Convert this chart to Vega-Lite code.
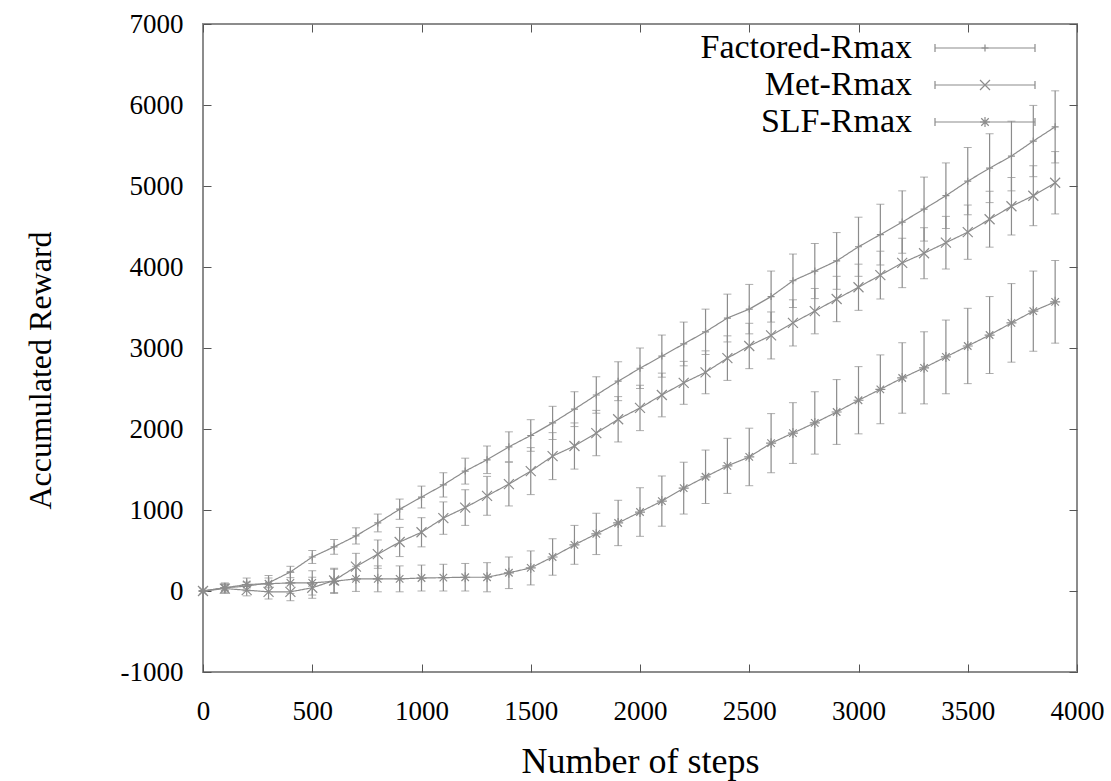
{
  "$schema": "https://vega.github.io/schema/vega-lite/v6.json",
  "width": 874,
  "height": 648,
  "autosize": "none",
  "padding": {"left": 203, "top": 24, "right": 34, "bottom": 109},
  "background": "white",
  "config": {
    "font": "Liberation Serif",
    "view": {"stroke": "#8c8c8c", "strokeWidth": 2},
    "axis": {
      "grid": false,
      "domain": false,
      "tickColor": "#555555",
      "tickWidth": 1,
      "labelFlush": false,
      "labelFont": "Liberation Serif",
      "labelFontSize": 27,
      "labelColor": "#000000",
      "titleFont": "Liberation Serif",
      "titleFontSize": 32,
      "titleFontWeight": "normal",
      "titleColor": "#000000"
    }
  },
  "data": {
    "values": [
      {"series": "Factored-Rmax", "step": 0, "reward": 0, "err": 0},
      {"series": "Factored-Rmax", "step": 100, "reward": 40, "err": 40},
      {"series": "Factored-Rmax", "step": 200, "reward": 60, "err": 50},
      {"series": "Factored-Rmax", "step": 300, "reward": 100, "err": 60},
      {"series": "Factored-Rmax", "step": 400, "reward": 235, "err": 70},
      {"series": "Factored-Rmax", "step": 500, "reward": 420, "err": 80},
      {"series": "Factored-Rmax", "step": 600, "reward": 545, "err": 90},
      {"series": "Factored-Rmax", "step": 700, "reward": 680, "err": 100},
      {"series": "Factored-Rmax", "step": 800, "reward": 840, "err": 110},
      {"series": "Factored-Rmax", "step": 900, "reward": 1010, "err": 125},
      {"series": "Factored-Rmax", "step": 1000, "reward": 1160, "err": 135},
      {"series": "Factored-Rmax", "step": 1100, "reward": 1310, "err": 150},
      {"series": "Factored-Rmax", "step": 1200, "reward": 1480, "err": 160},
      {"series": "Factored-Rmax", "step": 1300, "reward": 1620, "err": 170},
      {"series": "Factored-Rmax", "step": 1400, "reward": 1780, "err": 185},
      {"series": "Factored-Rmax", "step": 1500, "reward": 1920, "err": 195},
      {"series": "Factored-Rmax", "step": 1600, "reward": 2075, "err": 205},
      {"series": "Factored-Rmax", "step": 1700, "reward": 2245, "err": 215},
      {"series": "Factored-Rmax", "step": 1800, "reward": 2420, "err": 225},
      {"series": "Factored-Rmax", "step": 1900, "reward": 2590, "err": 240},
      {"series": "Factored-Rmax", "step": 2000, "reward": 2750, "err": 250},
      {"series": "Factored-Rmax", "step": 2100, "reward": 2900, "err": 260},
      {"series": "Factored-Rmax", "step": 2200, "reward": 3050, "err": 270},
      {"series": "Factored-Rmax", "step": 2300, "reward": 3200, "err": 280},
      {"series": "Factored-Rmax", "step": 2400, "reward": 3370, "err": 295},
      {"series": "Factored-Rmax", "step": 2500, "reward": 3480, "err": 305},
      {"series": "Factored-Rmax", "step": 2600, "reward": 3635, "err": 315},
      {"series": "Factored-Rmax", "step": 2700, "reward": 3830, "err": 330},
      {"series": "Factored-Rmax", "step": 2800, "reward": 3950, "err": 340},
      {"series": "Factored-Rmax", "step": 2900, "reward": 4075, "err": 350},
      {"series": "Factored-Rmax", "step": 3000, "reward": 4250, "err": 365},
      {"series": "Factored-Rmax", "step": 3100, "reward": 4400, "err": 375},
      {"series": "Factored-Rmax", "step": 3200, "reward": 4555, "err": 385},
      {"series": "Factored-Rmax", "step": 3300, "reward": 4715, "err": 395},
      {"series": "Factored-Rmax", "step": 3400, "reward": 4880, "err": 405},
      {"series": "Factored-Rmax", "step": 3500, "reward": 5060, "err": 415},
      {"series": "Factored-Rmax", "step": 3600, "reward": 5220, "err": 425},
      {"series": "Factored-Rmax", "step": 3700, "reward": 5370, "err": 430},
      {"series": "Factored-Rmax", "step": 3800, "reward": 5555, "err": 440},
      {"series": "Factored-Rmax", "step": 3900, "reward": 5730, "err": 445},
      {"series": "Met-Rmax", "step": 0, "reward": 0, "err": 0},
      {"series": "Met-Rmax", "step": 100, "reward": 30, "err": 60},
      {"series": "Met-Rmax", "step": 200, "reward": 10, "err": 70},
      {"series": "Met-Rmax", "step": 300, "reward": -10, "err": 90},
      {"series": "Met-Rmax", "step": 400, "reward": -10, "err": 110},
      {"series": "Met-Rmax", "step": 500, "reward": 40, "err": 130},
      {"series": "Met-Rmax", "step": 600, "reward": 130, "err": 150},
      {"series": "Met-Rmax", "step": 700, "reward": 300, "err": 165},
      {"series": "Met-Rmax", "step": 800, "reward": 455, "err": 175},
      {"series": "Met-Rmax", "step": 900, "reward": 605, "err": 180},
      {"series": "Met-Rmax", "step": 1000, "reward": 725, "err": 180},
      {"series": "Met-Rmax", "step": 1100, "reward": 900, "err": 200},
      {"series": "Met-Rmax", "step": 1200, "reward": 1030, "err": 220},
      {"series": "Met-Rmax", "step": 1300, "reward": 1175, "err": 240},
      {"series": "Met-Rmax", "step": 1400, "reward": 1320, "err": 270},
      {"series": "Met-Rmax", "step": 1500, "reward": 1480, "err": 290},
      {"series": "Met-Rmax", "step": 1600, "reward": 1665, "err": 290},
      {"series": "Met-Rmax", "step": 1700, "reward": 1790, "err": 285},
      {"series": "Met-Rmax", "step": 1800, "reward": 1950, "err": 280},
      {"series": "Met-Rmax", "step": 1900, "reward": 2120, "err": 280},
      {"series": "Met-Rmax", "step": 2000, "reward": 2260, "err": 280},
      {"series": "Met-Rmax", "step": 2100, "reward": 2420, "err": 270},
      {"series": "Met-Rmax", "step": 2200, "reward": 2570, "err": 265},
      {"series": "Met-Rmax", "step": 2300, "reward": 2700, "err": 265},
      {"series": "Met-Rmax", "step": 2400, "reward": 2875, "err": 275},
      {"series": "Met-Rmax", "step": 2500, "reward": 3025, "err": 280},
      {"series": "Met-Rmax", "step": 2600, "reward": 3155, "err": 290},
      {"series": "Met-Rmax", "step": 2700, "reward": 3310, "err": 285},
      {"series": "Met-Rmax", "step": 2800, "reward": 3455, "err": 280},
      {"series": "Met-Rmax", "step": 2900, "reward": 3605, "err": 280},
      {"series": "Met-Rmax", "step": 3000, "reward": 3750, "err": 285},
      {"series": "Met-Rmax", "step": 3100, "reward": 3900, "err": 295},
      {"series": "Met-Rmax", "step": 3200, "reward": 4050, "err": 305},
      {"series": "Met-Rmax", "step": 3300, "reward": 4170, "err": 315},
      {"series": "Met-Rmax", "step": 3400, "reward": 4300, "err": 325},
      {"series": "Met-Rmax", "step": 3500, "reward": 4430, "err": 335},
      {"series": "Met-Rmax", "step": 3600, "reward": 4590, "err": 345},
      {"series": "Met-Rmax", "step": 3700, "reward": 4750, "err": 355},
      {"series": "Met-Rmax", "step": 3800, "reward": 4880, "err": 370},
      {"series": "Met-Rmax", "step": 3900, "reward": 5040, "err": 385},
      {"series": "SLF-Rmax", "step": 0, "reward": 0, "err": 0},
      {"series": "SLF-Rmax", "step": 100, "reward": 40, "err": 60},
      {"series": "SLF-Rmax", "step": 200, "reward": 80, "err": 80},
      {"series": "SLF-Rmax", "step": 300, "reward": 90, "err": 100},
      {"series": "SLF-Rmax", "step": 400, "reward": 100, "err": 130},
      {"series": "SLF-Rmax", "step": 500, "reward": 100, "err": 150},
      {"series": "SLF-Rmax", "step": 600, "reward": 120, "err": 150},
      {"series": "SLF-Rmax", "step": 700, "reward": 150, "err": 155},
      {"series": "SLF-Rmax", "step": 800, "reward": 150, "err": 160},
      {"series": "SLF-Rmax", "step": 900, "reward": 150, "err": 160},
      {"series": "SLF-Rmax", "step": 1000, "reward": 160, "err": 160},
      {"series": "SLF-Rmax", "step": 1100, "reward": 165, "err": 165},
      {"series": "SLF-Rmax", "step": 1200, "reward": 170, "err": 170},
      {"series": "SLF-Rmax", "step": 1300, "reward": 170, "err": 180},
      {"series": "SLF-Rmax", "step": 1400, "reward": 225, "err": 195},
      {"series": "SLF-Rmax", "step": 1500, "reward": 285, "err": 210},
      {"series": "SLF-Rmax", "step": 1600, "reward": 420, "err": 225},
      {"series": "SLF-Rmax", "step": 1700, "reward": 570, "err": 240},
      {"series": "SLF-Rmax", "step": 1800, "reward": 705, "err": 255},
      {"series": "SLF-Rmax", "step": 1900, "reward": 840, "err": 280},
      {"series": "SLF-Rmax", "step": 2000, "reward": 975, "err": 300},
      {"series": "SLF-Rmax", "step": 2100, "reward": 1110, "err": 310},
      {"series": "SLF-Rmax", "step": 2200, "reward": 1270, "err": 320},
      {"series": "SLF-Rmax", "step": 2300, "reward": 1410, "err": 330},
      {"series": "SLF-Rmax", "step": 2400, "reward": 1545, "err": 340},
      {"series": "SLF-Rmax", "step": 2500, "reward": 1655, "err": 355},
      {"series": "SLF-Rmax", "step": 2600, "reward": 1825, "err": 365},
      {"series": "SLF-Rmax", "step": 2700, "reward": 1950, "err": 375},
      {"series": "SLF-Rmax", "step": 2800, "reward": 2075, "err": 385},
      {"series": "SLF-Rmax", "step": 2900, "reward": 2210, "err": 400},
      {"series": "SLF-Rmax", "step": 3000, "reward": 2355, "err": 415},
      {"series": "SLF-Rmax", "step": 3100, "reward": 2490, "err": 425},
      {"series": "SLF-Rmax", "step": 3200, "reward": 2630, "err": 435},
      {"series": "SLF-Rmax", "step": 3300, "reward": 2755, "err": 445},
      {"series": "SLF-Rmax", "step": 3400, "reward": 2890, "err": 455},
      {"series": "SLF-Rmax", "step": 3500, "reward": 3025, "err": 465},
      {"series": "SLF-Rmax", "step": 3600, "reward": 3160, "err": 475},
      {"series": "SLF-Rmax", "step": 3700, "reward": 3310, "err": 485},
      {"series": "SLF-Rmax", "step": 3800, "reward": 3455, "err": 495},
      {"series": "SLF-Rmax", "step": 3900, "reward": 3570, "err": 510}
    ]
  },
  "layer": [
    {
      "mark": {"type": "errorbar", "color": "#8c8c8c", "ticks": {"size": 8, "color": "#8c8c8c"}, "rule": {"color": "#8c8c8c", "strokeWidth": 1.2}},
      "encoding": {
        "x": {"field": "step", "type": "quantitative", "scale": {"domain": [0, 4000], "nice": false},
          "axis": {"orient": "bottom", "values": [0, 500, 1000, 1500, 2000, 2500, 3000, 3500, 4000], "tickSize": -8, "labelPadding": 34, "title": "Number of steps", "titleFontSize": 36, "titlePadding": 20, "labelExpr": "'' + datum.value"}},
        "y": {"field": "reward", "type": "quantitative", "scale": {"domain": [-1000, 7000], "nice": false},
          "axis": {"orient": "left", "values": [-1000, 0, 1000, 2000, 3000, 4000, 5000, 6000, 7000], "tickSize": -8, "labelPadding": 28, "title": "Accumulated Reward", "titleX": -163, "titleY": 346, "titleAngle": -90, "titleBaseline": "middle", "titleAlign": "center", "labelExpr": "'' + datum.value"}},
        "yError": {"field": "err"},
        "detail": {"field": "series"}
      }
    },
    {
      "mark": {"type": "line", "stroke": "#8c8c8c", "strokeWidth": 1.2},
      "encoding": {
        "x": {"field": "step", "type": "quantitative",
          "axis": {"orient": "top", "values": [0, 500, 1000, 1500, 2000, 2500, 3000, 3500, 4000], "tickSize": -8, "labels": false, "title": null}},
        "y": {"field": "reward", "type": "quantitative",
          "axis": {"orient": "right", "values": [-1000, 0, 1000, 2000, 3000, 4000, 5000, 6000, 7000], "tickSize": -8, "labels": false, "title": null}},
        "strokeDash": {
          "field": "series", "type": "nominal",
          "scale": {"domain": ["Factored-Rmax", "Met-Rmax", "SLF-Rmax"], "range": [[1, 0], [1, 0], [1, 0]]},
          "legend": {
            "title": null,
            "orient": "none",
            "legendX": 765,
            "legendY": 7,
            "padding": 0,
            "labelAlign": "right",
            "labelOffset": -90,
            "labelFont": "Liberation Serif",
            "labelFontSize": 34,
            "labelColor": "#000000",
            "labelLimit": 600,
            "symbolType": "M-10,0L10,0M-10,-0.8L-10,0.8M10,-0.8L10,0.8",
            "symbolSize": 100,
            "symbolStrokeColor": "#8c8c8c",
            "symbolStrokeWidth": 1.2,
            "symbolFillColor": "transparent",
            "rowPadding": 3
          }
        }
      }
    },
    {
      "mark": {"type": "point", "filled": false, "color": "#8c8c8c", "strokeWidth": 1.2, "size": 100, "opacity": 1},
      "encoding": {
        "x": {"field": "step", "type": "quantitative", "axis": null},
        "y": {"field": "reward", "type": "quantitative", "axis": null},
        "shape": {
          "field": "series", "type": "nominal",
          "scale": {
            "range": ["M-0.7,0L0.7,0M0,-0.7L0,0.7", "M-1,-1L1,1M-1,1L1,-1", "M-1,0L1,0M0,-1L0,1M-0.75,-0.75L0.75,0.75M-0.75,0.75L0.75,-0.75"]
          },
          "legend": {
            "title": null,
            "orient": "none",
            "legendX": 765,
            "legendY": 7,
            "padding": 0,
            "labelAlign": "right",
            "labelOffset": -90,
            "labelFont": "Liberation Serif",
            "labelFontSize": 34,
            "labelColor": "transparent",
            "labelExpr": "' '",
            "labelLimit": 600,
            "symbolSize": 100,
            "symbolStrokeColor": "#8c8c8c",
            "symbolStrokeWidth": 1.2,
            "symbolFillColor": "transparent",
            "rowPadding": 3
          }
        }
      }
    }
  ],
  "resolve": {"axis": {"x": "independent", "y": "independent"}}
}
